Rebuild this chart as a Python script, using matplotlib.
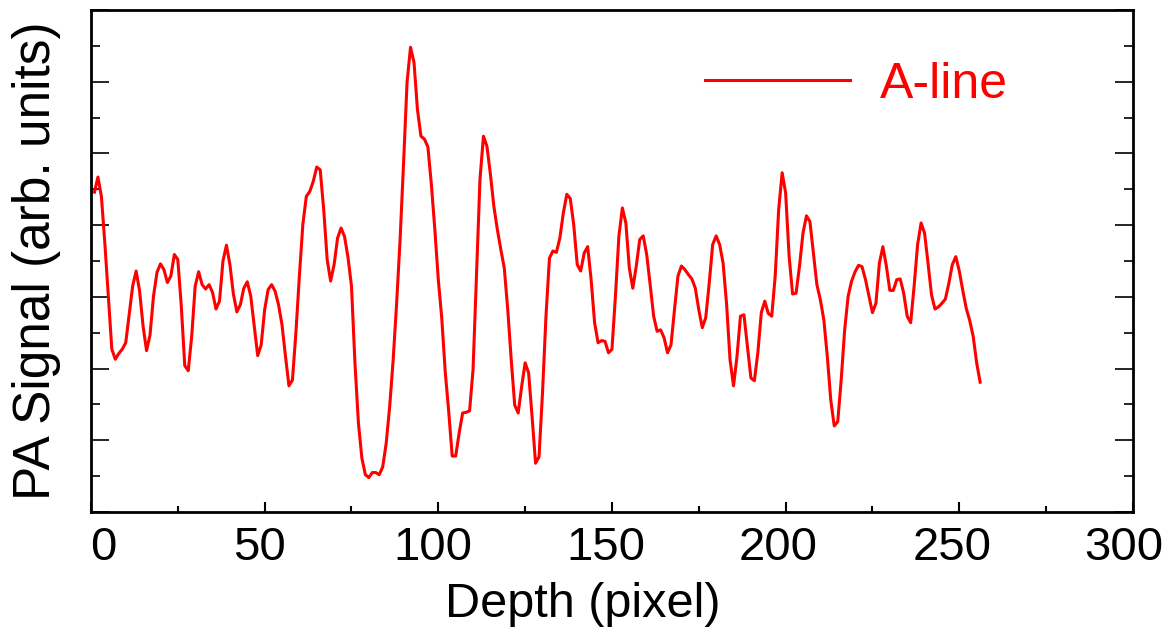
import numpy as np
import matplotlib
matplotlib.use('Agg')
from matplotlib import pyplot as plt
from matplotlib.ticker import MultipleLocator
from matplotlib.transforms import ScaledTranslation

plt.rcParams['font.family'] = ['Liberation Sans', 'DejaVu Sans']

# A-line signal, one value per depth pixel (1..256)
signal = [
    4.46, 4.67, 4.40, 3.74, 3.00, 2.27, 2.13, 2.21, 2.27, 2.36,
    2.75, 3.15, 3.36, 3.08, 2.59, 2.25, 2.47, 3.01, 3.34, 3.46,
    3.38, 3.20, 3.29, 3.59, 3.52, 2.87, 2.04, 1.97, 2.45, 3.15,
    3.35, 3.17, 3.11, 3.17, 3.06, 2.83, 2.94, 3.50, 3.72, 3.45,
    3.04, 2.79, 2.89, 3.12, 3.21, 3.01, 2.59, 2.18, 2.33, 2.82,
    3.10, 3.17, 3.08, 2.89, 2.61, 2.17, 1.76, 1.84, 2.50, 3.29,
    4.01, 4.40, 4.47, 4.61, 4.81, 4.77, 4.22, 3.52, 3.22, 3.45,
    3.82, 3.96, 3.84, 3.55, 3.15, 2.08, 1.24, 0.75, 0.52, 0.48,
    0.55, 0.55, 0.52, 0.63, 0.96, 1.47, 2.12, 2.91, 3.80, 4.87,
    5.99, 6.48, 6.27, 5.61, 5.24, 5.20, 5.09, 4.57, 3.94, 3.24,
    2.70, 1.95, 1.40, 0.78, 0.78, 1.10, 1.38, 1.39, 1.41, 1.98,
    3.29, 4.64, 5.24, 5.10, 4.71, 4.26, 3.94, 3.66, 3.40, 2.82,
    2.12, 1.49, 1.38, 1.75, 2.08, 1.94, 1.33, 0.68, 0.77, 1.66,
    2.73, 3.54, 3.64, 3.62, 3.82, 4.17, 4.43, 4.37, 4.00, 3.45,
    3.36, 3.61, 3.70, 3.24, 2.64, 2.36, 2.39, 2.38, 2.22, 2.27,
    3.01, 3.85, 4.24, 4.03, 3.40, 3.12, 3.43, 3.80, 3.85, 3.59,
    3.17, 2.73, 2.52, 2.54, 2.43, 2.22, 2.33, 2.82, 3.29, 3.43,
    3.38, 3.31, 3.25, 3.12, 2.82, 2.57, 2.71, 3.19, 3.73, 3.85,
    3.73, 3.47, 2.90, 2.12, 1.76, 2.17, 2.73, 2.75, 2.31, 1.87,
    1.83, 2.22, 2.78, 2.94, 2.77, 2.73, 3.29, 4.22, 4.73, 4.45,
    3.57, 3.04, 3.05, 3.43, 3.89, 4.13, 4.05, 3.61, 3.17, 2.96,
    2.68, 2.17, 1.56, 1.20, 1.26, 1.84, 2.54, 3.01, 3.22, 3.35,
    3.44, 3.42, 3.24, 3.01, 2.78, 2.91, 3.47, 3.70, 3.43, 3.09,
    3.09, 3.24, 3.25, 3.05, 2.73, 2.64, 3.15, 3.73, 4.03, 3.89,
    3.47, 3.03, 2.83, 2.86, 2.91, 2.97, 3.19, 3.45, 3.56, 3.36,
    3.09, 2.84, 2.67, 2.45, 2.08, 1.81,
]
depth = np.arange(1, len(signal) + 1)

xticks = [0, 50, 100, 150, 200, 250, 300]
# small horizontal nudges (pixels) so the tick labels sit like the original
label_shift = [12, -5, -5, -6, -7, -7, -9]

fig = plt.figure(figsize=(11.71, 6.35), dpi=100)
ax = fig.add_axes([0.0777, 0.1937, 0.8898, 0.7906])

ax.plot(depth, signal, color='#ff0000', lw=2.2, label='A-line')

ax.set_xlim(0, 300)
ax.set_ylim(0, 7)
ax.set_xticks(xticks)
ax.xaxis.set_minor_locator(MultipleLocator(25))
ax.yaxis.set_major_locator(MultipleLocator(1))
ax.yaxis.set_minor_locator(MultipleLocator(0.5))

for s in ax.spines.values():
    s.set_linewidth(2)

ax.tick_params(axis='x', which='major', direction='in', length=7, width=1.5,
               labelsize=34, pad=10, top=False)
ax.tick_params(axis='x', which='minor', direction='in', length=4, width=1.5, top=False)
ax.tick_params(axis='y', which='major', direction='in', length=13, width=1.2,
               left=True, right=True, labelleft=False)
ax.tick_params(axis='y', which='minor', direction='in', length=6.5, width=1.2,
               left=True, right=True)

for lab, dx in zip(ax.get_xticklabels(), label_shift):
    lab.set_transform(lab.get_transform() + ScaledTranslation(dx / 100, 0, fig.dpi_scale_trans))

ax.set_xlabel('Depth (pixel)', fontsize=35, labelpad=9)
ax.xaxis.label.set_x(0.472)
ax.set_ylabel('PA Signal (arb. units)', fontsize=37, labelpad=18)

ax.legend(loc='center left', bbox_to_anchor=(0.589, 0.851), frameon=False,
          fontsize=36, handlelength=2.9, handletextpad=0.6,
          borderpad=0, borderaxespad=0, labelcolor='linecolor')

fig.savefig('out.png', dpi=100)
